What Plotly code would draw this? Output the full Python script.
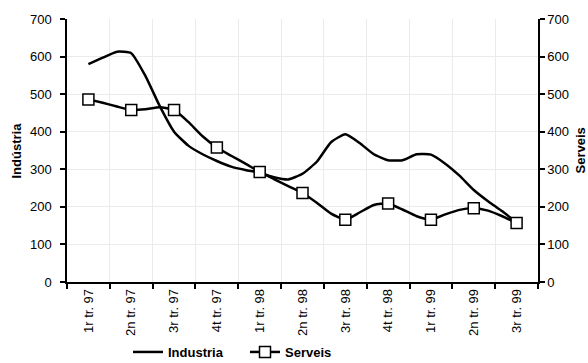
import plotly.graph_objects as go

quarters = ["1r tr. 97", "2n tr. 97", "3r tr. 97", "4t tr. 97", "1r tr. 98", "2n tr. 98",
            "3r tr. 98", "4t tr. 98", "1r tr. 99", "2n tr. 99", "3r tr. 99"]

# monthly readings (3 per quarter), first at 1r tr. 97, last at 3r tr. 99
industria = [580, 597, 613, 609, 548, 468, 400, 363, 340, 322, 307, 298, 291, 279, 273, 288,
             320, 372, 393, 370, 340, 324, 324, 340, 339, 315, 283, 245, 215, 188, 158]
serveis = [486, 477, 467, 458, 460, 465, 458, 426, 388, 358, 336, 315, 293, 274, 255, 237,
           211, 182, 166, 185, 205, 209, 193, 175, 166, 180, 192, 196, 190, 175, 157]

months = [i / 3 for i in range(len(industria))]
qpos = list(range(len(quarters)))

FONT = "Liberation Sans, Arial, sans-serif"
GRID = "#ebebeb"
MARKER = dict(symbol="square", size=11, color="white", line=dict(color="black", width=1.5))

fig = go.Figure()
fig.add_trace(go.Scatter(x=months, y=industria, mode="lines", name="<b>Industria</b>",
                         line=dict(color="black", width=2.5, shape="spline", smoothing=0.5),
                         yaxis="y"))
fig.add_trace(go.Scatter(x=months, y=serveis, mode="lines", showlegend=False,
                         line=dict(color="black", width=2.5, shape="spline", smoothing=0.5),
                         yaxis="y2"))
fig.add_trace(go.Scatter(x=months[::3], y=serveis[::3], mode="markers", showlegend=False,
                         marker=MARKER, yaxis="y2"))
fig.add_trace(go.Scatter(x=[None], y=[None], mode="lines+markers", name="<b>Serveis</b>",
                         line=dict(color="black", width=2.5), marker=MARKER, yaxis="y2"))

fig.update_layout(
    width=588, height=363,
    margin=dict(l=67, r=50, t=19, b=81, autoexpand=False),
    paper_bgcolor="white", plot_bgcolor="white",
    font=dict(family=FONT, size=13, color="black"),
    showlegend=True,
    legend=dict(orientation="h", xref="container", yref="container",
                x=128 / 588, xanchor="left", y=1 - 352 / 363, yanchor="middle",
                font=dict(size=13), entrywidth=72, entrywidthmode="pixels",
                itemwidth=30, bgcolor="rgba(0,0,0,0)"),
    xaxis=dict(range=[-0.5, 10.5], tickmode="array", tickvals=qpos, ticktext=quarters,
               tickangle=-90, ticks="", showgrid=False, showline=True, linecolor="black",
               linewidth=1.5, zeroline=False, tickfont=dict(size=13), automargin=False,
               minor=dict(tickmode="array", tickvals=[q - 0.5 for q in range(len(quarters) + 1)],
                          ticks="outside", ticklen=5, tickcolor="black", tickwidth=1.5,
                          showgrid=True, gridcolor=GRID, gridwidth=1)),
    yaxis=dict(range=[0, 700], dtick=100, showgrid=True, gridcolor=GRID, gridwidth=1,
               showline=True, linecolor="black", linewidth=1.5, ticks="outside", ticklen=5,
               tickcolor="black", tickwidth=1.5, zeroline=False, ticklabelstandoff=6,
               automargin=False),
    yaxis2=dict(range=[0, 700], dtick=100, overlaying="y", side="right", showgrid=False,
                showline=True, linecolor="black", linewidth=1.5, ticks="outside", ticklen=5,
                tickcolor="black", tickwidth=1.5, zeroline=False, automargin=False),
    annotations=[
        dict(text="<b>Indústria</b>", xref="paper", yref="paper", x=0, y=0.5,
             xanchor="center", yanchor="middle",
             xshift=-51, textangle=-90, showarrow=False, font=dict(size=13)),
        dict(text="<b>Serveis</b>", xref="paper", yref="paper", x=1, y=0.5,
             xanchor="center", yanchor="middle",
             xshift=42, textangle=-90, showarrow=False, font=dict(size=13)),
    ],
)

fig.write_html("out.html", post_script="document.body.style.margin='0';",
               config={"displayModeBar": False})
